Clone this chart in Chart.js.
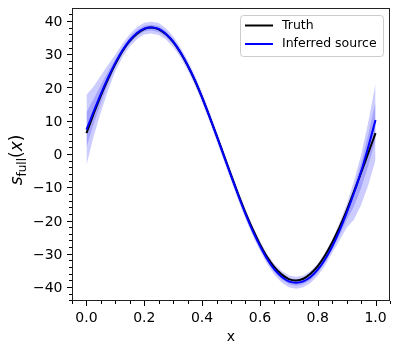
<!DOCTYPE html>
<html>
<head>
<meta charset="utf-8">
<script src="https://cdn.jsdelivr.net/npm/chart.js@4.4.1/dist/chart.umd.min.js"></script>
<style>
  html, body { margin: 0; padding: 0; background: #fff; }
  #chart { display: block; }
</style>
</head>
<body>
<canvas id="chart" width="399" height="354"></canvas>
<script>
/* global Chart */

// sample positions along x
const xValues = [
  0, 0.025, 0.05, 0.075, 0.1, 0.125, 0.15, 0.175, 0.2, 0.225,
  0.25, 0.275, 0.3, 0.325, 0.35, 0.375, 0.4, 0.425, 0.45, 0.475,
  0.5, 0.525, 0.55, 0.575, 0.6, 0.625, 0.65, 0.675, 0.7, 0.725,
  0.75, 0.775, 0.8, 0.825, 0.85, 0.875, 0.9, 0.925, 0.95, 0.975, 1.0,
];

const truth = [
  6.3, 12.1, 17.6, 22.6, 27.1, 31.0, 34.0, 36.2, 37.6, 38.0,
  37.5, 36.0, 33.7, 30.5, 26.6, 22.1, 17.0, 11.4, 5.6, -0.3,
  -6.3, -12.1, -17.6, -22.6, -27.1, -31.0, -34.0, -36.2, -37.6, -38.0,
  -37.5, -36.0, -33.7, -30.5, -26.6, -22.1, -17.0, -11.4, -5.6, 0.3, 6.3,
];

const inferred = [
  7.3, 12.8, 18.1, 23.0, 27.4, 31.2, 34.2, 36.4, 37.7, 38.0,
  37.6, 36.1, 33.8, 30.6, 26.7, 22.2, 17.0, 11.4, 5.5, -0.5,
  -6.5, -12.4, -18.0, -23.1, -27.6, -31.6, -34.7, -36.9, -38.3, -38.7,
  -38.3, -37.0, -34.8, -31.7, -27.8, -23.1, -17.7, -11.8, -5.3, 2.2, 10.2,
];

const bandHigh = [
  17.8, 20.3, 23.6, 26.8, 29.9, 33.2, 36.1, 38.2, 39.5, 39.8,
  39.4, 37.8, 35.4, 32.1, 28.2, 23.7, 18.5, 12.9, 7.0, 1.0,
  -5.0, -10.9, -16.5, -21.6, -26.1, -30.1, -33.1, -35.2, -36.5, -36.9,
  -36.5, -35.2, -33.0, -29.8, -25.8, -20.8, -15.2, -8.3, -0.3, 9.7, 21.2,
];

const bandLow = [
  -3.3, 5.3, 12.6, 19.2, 24.9, 29.2, 32.3, 34.6, 35.9, 36.2,
  35.8, 34.4, 32.2, 29.1, 25.2, 20.7, 15.5, 9.9, 4.0, -2.0,
  -8.0, -13.9, -19.5, -24.6, -29.1, -33.1, -36.3, -38.6, -40.1, -40.5,
  -40.1, -38.8, -36.6, -33.6, -29.8, -26.1, -22.2, -19.8, -15.3, -9.3, -1.8,
];

const xTicks = [0, 0.2, 0.4, 0.6, 0.8, 1.0];
const xTickLabels = ["0.0", "0.2", "0.4", "0.6", "0.8", "1.0"];
const yTicks = [-40, -30, -20, -10, 0, 10, 20, 30, 40];
const yTickLabels = ["\u221240", "\u221230", "\u221220", "\u221210", "0", "10", "20", "30", "40"];
const legendLabels = ["Truth", "Inferred source"];

const FONT = '"DejaVu Sans"';

function pts(ys) {
  return xValues.map((x, i) => ({ x, y: ys[i] }));
}

// inner (darker) band sits halfway between the mean and the outer band
const innerHigh = inferred.map((m, i) => m + (bandHigh[i] - m) / 2);
const innerLow = inferred.map((m, i) => m - (m - bandLow[i]) / 2);

const decor = {
  id: "decor",
  afterDraw(chart) {
    const { ctx, chartArea: a, scales } = chart;
    const xs = scales.x;
    const ys = scales.y;
    ctx.save();

    // frame
    ctx.strokeStyle = "#222";
    ctx.lineWidth = 1;
    ctx.strokeRect(a.left + 0.5, a.top + 0.5, a.width - 1, a.height - 1);

    // major + minor ticks
    ctx.strokeStyle = "#000";
    ctx.beginPath();
    xTicks.forEach((v) => {
      const px = Math.round(xs.getPixelForValue(v)) + 0.5;
      ctx.moveTo(px, a.bottom);
      ctx.lineTo(px, a.bottom + 5);
    });
    for (let v = -0.05; v <= 1.0501; v += 0.05) {
      const r = Math.round(v * 100) / 100;
      if (xTicks.some((t) => Math.abs(t - r) < 1e-6)) continue;
      const px = Math.round(xs.getPixelForValue(r)) + 0.5;
      ctx.moveTo(px, a.bottom);
      ctx.lineTo(px, a.bottom + 3);
    }
    yTicks.forEach((v) => {
      const py = Math.round(ys.getPixelForValue(v)) + 0.5;
      ctx.moveTo(a.left, py);
      ctx.lineTo(a.left - 5, py);
    });
    for (let v = -44; v <= 42; v += 2) {
      if (v % 10 === 0) continue;
      const py = Math.round(ys.getPixelForValue(v)) + 0.5;
      ctx.moveTo(a.left, py);
      ctx.lineTo(a.left - 3, py);
    }
    ctx.stroke();

    // tick labels
    ctx.fillStyle = "#000";
    ctx.font = `14px ${FONT}`;
    ctx.textBaseline = "alphabetic";
    ctx.textAlign = "center";
    xTicks.forEach((v, i) => {
      ctx.fillText(xTickLabels[i], xs.getPixelForValue(v), a.bottom + 21);
    });
    ctx.textAlign = "right";
    yTicks.forEach((v, i) => {
      ctx.fillText(yTickLabels[i], a.left - 9.5, ys.getPixelForValue(v) + 5.1);
    });

    // x label
    ctx.textAlign = "center";
    ctx.fillText("x", (a.left + a.right) / 2, 341);

    // y label: s_full(x)
    const big = 17;
    const small = 12;
    const parts = [
      { t: "s", f: `italic ${big}px ${FONT}`, dy: 0 },
      { t: "full", f: `${small}px ${FONT}`, dy: 4 },
      { t: "(", f: `${big}px ${FONT}`, dy: 0 },
      { t: "x", f: `italic ${big}px ${FONT}`, dy: 0 },
      { t: ")", f: `${big}px ${FONT}`, dy: 0 },
    ];
    let total = 0;
    parts.forEach((p) => {
      ctx.font = p.f;
      p.w = ctx.measureText(p.t).width;
      total += p.w;
    });
    ctx.translate(16, 160);
    ctx.rotate(-Math.PI / 2);
    ctx.textAlign = "left";
    let cx = -total / 2;
    parts.forEach((p) => {
      ctx.font = p.f;
      ctx.fillText(p.t, cx, 6 + p.dy);
      cx += p.w;
    });
    ctx.setTransform(1, 0, 0, 1, 0, 0);

    // legend box
    const lx = 240.5, ly = 15.5, lw = 143, lh = 41, rad = 3;
    ctx.beginPath();
    ctx.moveTo(lx + rad, ly);
    ctx.lineTo(lx + lw - rad, ly);
    ctx.arcTo(lx + lw, ly, lx + lw, ly + rad, rad);
    ctx.lineTo(lx + lw, ly + lh - rad);
    ctx.arcTo(lx + lw, ly + lh, lx + lw - rad, ly + lh, rad);
    ctx.lineTo(lx + rad, ly + lh);
    ctx.arcTo(lx, ly + lh, lx, ly + lh - rad, rad);
    ctx.lineTo(lx, ly + rad);
    ctx.arcTo(lx, ly, lx + rad, ly, rad);
    ctx.closePath();
    ctx.fillStyle = "rgba(255,255,255,0.8)";
    ctx.fill();
    ctx.strokeStyle = "#cccccc";
    ctx.lineWidth = 1;
    ctx.stroke();

    const colors = ["#000000", "#0000ff"];
    const rows = [25.5, 44];
    ctx.font = `12.5px ${FONT}`;
    ctx.textBaseline = "middle";
    ctx.textAlign = "left";
    legendLabels.forEach((lab, i) => {
      ctx.strokeStyle = colors[i];
      ctx.lineWidth = 2;
      ctx.beginPath();
      ctx.moveTo(245, rows[i]);
      ctx.lineTo(273, rows[i]);
      ctx.stroke();
      ctx.fillStyle = "#000";
      ctx.fillText(lab, 282, rows[i]);
    });

    ctx.restore();
  },
};

const bandFill = "rgba(0, 0, 255, 0.2)";

new Chart(document.getElementById("chart"), {
  type: "line",
  data: {
    datasets: [
      { data: pts(bandHigh), fill: "+1", backgroundColor: bandFill, borderWidth: 0, pointRadius: 0, order: 6 },
      { data: pts(bandLow), fill: false, borderWidth: 0, pointRadius: 0, order: 5 },
      { data: pts(innerHigh), fill: "+1", backgroundColor: bandFill, borderWidth: 0, pointRadius: 0, order: 4 },
      { data: pts(innerLow), fill: false, borderWidth: 0, pointRadius: 0, order: 3 },
      { label: legendLabels[0], data: pts(truth), borderColor: "#000000", borderWidth: 2, pointRadius: 0, fill: false, tension: 0.2, order: 2 },
      { label: legendLabels[1], data: pts(inferred), borderColor: "#0000ff", borderWidth: 2, pointRadius: 0, fill: false, tension: 0.2, order: 1 },
    ],
  },
  options: {
    responsive: false,
    animation: false,
    devicePixelRatio: 1,
    layout: { padding: { top: 8, right: 9, left: 0, bottom: 0 } },
    plugins: {
      legend: { display: false },
      tooltip: { enabled: false },
    },
    scales: {
      x: {
        type: "linear",
        min: -0.05,
        max: 1.05,
        afterBuildTicks: (s) => { s.ticks = xTicks.map((v) => ({ value: v })); },
        afterFit: (s) => { s.height = 53; },
        grid: { display: false },
        border: { display: false },
        ticks: { display: false },
      },
      y: {
        type: "linear",
        min: -44.2,
        max: 43.9,
        afterBuildTicks: (s) => { s.ticks = yTicks.map((v) => ({ value: v })); },
        afterFit: (s) => { s.width = 72; },
        grid: { display: false },
        border: { display: false },
        ticks: { display: false },
      },
    },
  },
  plugins: [decor],
});
</script>
</body>
</html>
